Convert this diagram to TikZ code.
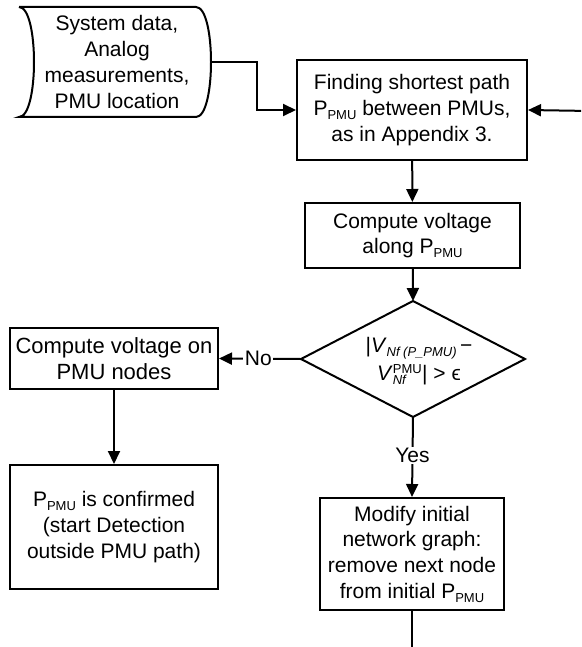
\documentclass[tikz,border=0pt]{standalone}
\usepackage{fontspec}
\setmainfont{Liberation Sans}
\usetikzlibrary{arrows.meta}

% small raised / lowered index text
\newcommand\lowtxt[1]{\raisebox{-4pt}{\fontsize{13}{13}\selectfont #1}}
\newcommand\hightxt[1]{\raisebox{7pt}{\fontsize{13}{13}\selectfont #1}}
\newcommand\Ppmu{P\lowtxt{PMU}}

\begin{document}
\begin{tikzpicture}[x=1pt,y=-1pt,
  line width=2pt,
  every node/.style={font=\fontsize{21}{25.7}\selectfont, align=center, inner sep=0pt},
  procbox/.style={draw, rectangle, line width=2pt},
  ghost/.style={rectangle},
  flow/.style={-{Triangle[length=13pt,width=12pt]}},
  tag/.style={fill=white, inner sep=1.5pt}]

\useasboundingbox (0,0) rectangle (581,647);
\begin{scope}
\clip (0,0) rectangle (581,647);

% input data: concave left side, convex right side
\node[ghost, minimum width=190pt, minimum height=108pt] (in) at (115,62) {};
\node at (117,62) {System data,\\Analog\\measurements,\\PMU location};
\draw (in.north west) -- ([xshift=-15pt]in.north east)
  .. controls ([xshift=5pt]in.north east) and ([xshift=5pt]in.south east) .. ([xshift=-15pt]in.south east)
  -- (in.south west)
  .. controls ([xshift=20pt]in.south west) and ([xshift=20pt]in.north west) .. (in.north west);

% processing steps
\node[procbox, minimum width=230pt, minimum height=100pt] (find) at (412,110)
  {Finding shortest path\\\Ppmu{} between PMUs,\\as in Appendix 3.};
\node[procbox, minimum width=215pt, minimum height=65pt] (comp) at (412.5,235.5)
  {Compute voltage\\along \Ppmu};

% decision
\node[ghost, minimum width=222pt, minimum height=114pt] (dec) at (413,359) {};
\draw (dec.north) -- (dec.east) -- (dec.south) -- (dec.west) -- cycle;
\node at (419,361) {|\textit{V}\lowtxt{\textit{Nf (P\_PMU)}}\,−\\[3pt]
  \textit{V}\rlap{\hightxt{PMU}}\lowtxt{\textit{Nf}}\hphantom{U}| > ϵ};

\node[procbox, minimum width=208pt, minimum height=61pt,
  font=\fontsize{22}{26}\selectfont] (volt) at (114,358.5)
  {Compute voltage on\\PMU nodes};
\node[procbox, minimum width=208pt, minimum height=124pt] (conf) at (114,527)
  {\Ppmu{} is confirmed\\(start Detection\\outside PMU path)};
\node[procbox, minimum width=184pt, minimum height=112pt] (mod) at (412,554)
  {Modify initial\\network graph:\\remove next node\\from initial \Ppmu};

% loose ends of the loop
\coordinate (loopin) at (590,111);
\coordinate (loopout) at (412,660);

% connectors
\draw[flow] (in.east) -- (257,62) |- (find.west);
\draw[flow] (find) -- (comp);
\draw[flow] (comp) -- (dec.north);
\draw[flow] (dec.west) -- node[tag, pos=0.52] {No} (volt.east);
\draw[flow] (volt) -- (conf);
\draw[flow] (dec.south) -- node[tag, pos=0.48] {Yes} (mod.north);
\draw (mod.south) -- (loopout);
\draw[flow] (loopin) -- (find.east);
\end{scope}
\end{tikzpicture}
\end{document}
